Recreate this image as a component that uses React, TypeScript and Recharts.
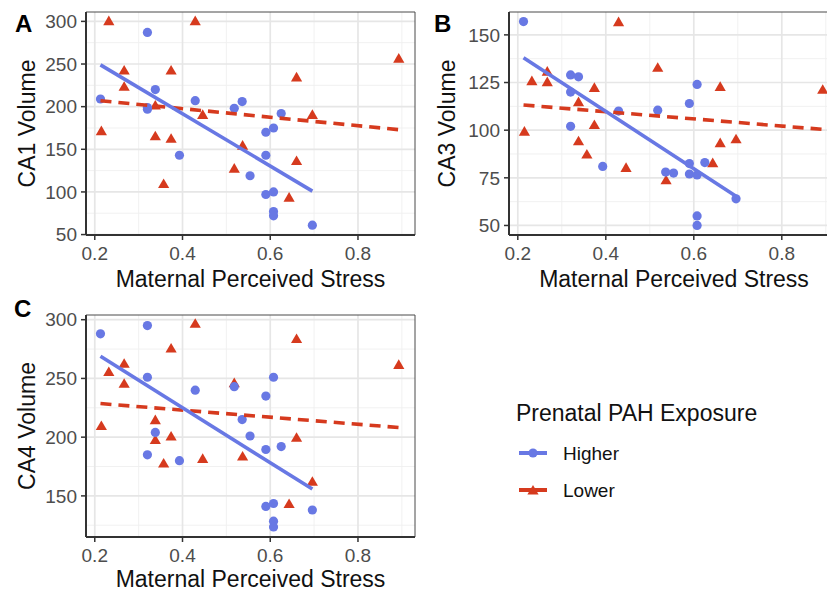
import React from 'react';
import {
  ScatterChart,
  Scatter,
  XAxis,
  YAxis,
  CartesianGrid,
  ReferenceArea,
} from 'recharts';

const BLUE = '#6878E4';
const RED = '#D63A1E';
const FONT = '"Liberation Sans", Arial, Helvetica, sans-serif';

// maternal perceived stress, per exposure group
const higherStress = [0.213, 0.32, 0.32, 0.32, 0.338, 0.393, 0.429, 0.518, 0.536, 0.554, 0.59, 0.59, 0.59, 0.6075, 0.6075, 0.6075, 0.6075, 0.625, 0.696];
const lowerStress = [0.215, 0.232, 0.267, 0.267, 0.338, 0.338, 0.357, 0.374, 0.374, 0.429, 0.446, 0.518, 0.537, 0.643, 0.66, 0.66, 0.696, 0.893];

// hippocampal subfield volumes
const ca1Higher = [209, 287, 197, 199, 220, 143, 207, 198, 206, 119, 170, 143, 97, 175, 100, 77, 72, 192, 61];
const ca1Lower = [172, 301, 243, 224, 202, 166, 110, 243, 163, 301, 191, 128, 155, 94, 235, 137, 191, 257];
const ca3Higher = [157, 129, 120, 102, 128, 81, 110, 110.5, 78, 77.5, 114, 82.5, 77, 124, 76.5, 55, 50, 83, 64];
const ca3Lower = [99.5, 126, 131, 125.5, 115, 94.5, 87.5, 122.5, 103, 157, 80.5, 133, 74, 83, 123, 93.5, 95.5, 121.5];
const ca4Higher = [288, 295, 251, 185, 204, 180, 240, 243, 215, 201, 235, 189.5, 141, 251, 143.5, 128.5, 123.5, 192, 138];
const ca4Lower = [210, 256, 263, 246, 215, 198, 178, 276, 201, 297, 182, 246.5, 184, 143.5, 284, 200, 162.5, 262];

// fitted line end points
const fitHigherX = [0.213, 0.696];
const fitLowerX = [0.213, 0.893];
const ca1FitHigher = [249, 101];
const ca1FitLower = [207, 173];
const ca3FitHigher = [138, 65.3];
const ca3FitLower = [113.2, 100.4];
const ca4FitHigher = [268.8, 155.8];
const ca4FitLower = [228.6, 208.2];

const xTicks = [0.2, 0.4, 0.6, 0.8];
const xMinor = [0.3, 0.5, 0.7, 0.9];
const xDomain = [0.18, 0.93];

const toPoints = (xs: number[], ys: number[]) => xs.map((x, i) => ({ x, y: ys[i] }));

const Dot = (props: any) => <circle cx={props.cx} cy={props.cy} r={4.6} fill={BLUE} />;

const Tri = (props: any) => {
  const { cx, cy } = props;
  return (
    <polygon
      points={`${cx},${cy - 5} ${cx + 5.6},${cy + 4.6} ${cx - 5.6},${cy + 4.6}`}
      fill={RED}
    />
  );
};

const NoShape = () => <g />;

interface PanelProps {
  left: number;
  top: number;
  width: number;
  height: number;
  marginTop: number;
  yWidth: number;
  xHeight: number;
  titleOffset: number;
  yDomain: number[];
  yTicks: number[];
  yMinor: number[];
  yLabel: string;
  higher: number[];
  lower: number[];
  fitHigher: number[];
  fitLower: number[];
}

// extra room under the x axis so the axis title is not clipped
const PAD = 10;

const Panel: React.FC<PanelProps> = (p) => (
  <div style={{ position: 'absolute', left: p.left, top: p.top }}>
    <ScatterChart
      width={p.width}
      height={p.height + PAD}
      margin={{ top: p.marginTop, right: 5, bottom: PAD, left: 0 }}
    >
      <CartesianGrid
        stroke="#EFEFEF"
        strokeWidth={0.9}
        horizontalValues={p.yMinor}
        verticalValues={xMinor}
      />
      <CartesianGrid
        stroke="#E6E6E6"
        strokeWidth={1.7}
        horizontalValues={p.yTicks}
        verticalValues={xTicks}
      />
      <ReferenceArea
        x1={xDomain[0]}
        x2={xDomain[1]}
        y1={p.yDomain[0]}
        y2={p.yDomain[1]}
        fill="none"
        stroke="#4a4a4a"
        strokeWidth={1}
        ifOverflow="visible"
      />
      <XAxis
        type="number"
        dataKey="x"
        domain={xDomain}
        ticks={xTicks}
        allowDataOverflow
        height={p.xHeight}
        tickFormatter={(v: number) => v.toFixed(1)}
        tick={{ fill: '#4d4d4d', fontSize: 19, fontFamily: FONT }}
        tickSize={5}
        tickMargin={7}
        tickLine={{ stroke: '#333', strokeWidth: 1.5 }}
        axisLine={{ stroke: '#333', strokeWidth: 2 }}
        label={{
          value: 'Maternal Perceived Stress',
          position: 'insideBottom',
          offset: p.titleOffset,
          fill: '#111',
          fontSize: 23,
          fontFamily: FONT,
        }}
      />
      <YAxis
        type="number"
        dataKey="y"
        domain={p.yDomain}
        ticks={p.yTicks}
        allowDataOverflow
        width={p.yWidth}
        tick={{ fill: '#4d4d4d', fontSize: 19, fontFamily: FONT }}
        tickSize={5}
        tickMargin={4}
        tickLine={{ stroke: '#333', strokeWidth: 1.5 }}
        axisLine={{ stroke: '#333', strokeWidth: 2 }}
        label={{
          value: p.yLabel,
          angle: -90,
          position: 'insideLeft',
          offset: 27,
          fill: '#111',
          fontSize: 23,
          fontFamily: FONT,
          style: { textAnchor: 'middle' },
        }}
      />
      <Scatter data={toPoints(lowerStress, p.lower)} shape={Tri} isAnimationActive={false} />
      <Scatter data={toPoints(higherStress, p.higher)} shape={Dot} isAnimationActive={false} />
      <Scatter
        data={toPoints(fitLowerX, p.fitLower)}
        shape={NoShape}
        line={{ stroke: RED, strokeWidth: 3.6, strokeDasharray: '11 7' }}
        isAnimationActive={false}
      />
      <Scatter
        data={toPoints(fitHigherX, p.fitHigher)}
        shape={NoShape}
        line={{ stroke: BLUE, strokeWidth: 3.6 }}
        isAnimationActive={false}
      />
    </ScatterChart>
  </div>
);

export default function App() {
  return (
    <div
      style={{
        position: 'relative',
        width: 827,
        height: 597,
        overflow: 'hidden',
        background: '#fff',
        fontFamily: FONT,
      }}
    >
      <style>{'body{margin:0}'}</style>
      <Panel
        left={0}
        top={0}
        width={420}
        height={290}
        marginTop={12}
        yWidth={86}
        xHeight={55}
        titleOffset={3}
        yDomain={[49.5, 311]}
        yTicks={[50, 100, 150, 200, 250, 300]}
        yMinor={[75, 125, 175, 225, 275]}
        yLabel="CA1 Volume"
        higher={ca1Higher}
        lower={ca1Lower}
        fitHigher={ca1FitHigher}
        fitLower={ca1FitLower}
      />
      <Panel
        left={420}
        top={0}
        width={424}
        height={290}
        marginTop={12}
        yWidth={89}
        xHeight={55}
        titleOffset={3}
        yDomain={[45, 162]}
        yTicks={[50, 75, 100, 125, 150]}
        yMinor={[62.5, 87.5, 112.5, 137.5]}
        yLabel="CA3 Volume"
        higher={ca3Higher}
        lower={ca3Lower}
        fitHigher={ca3FitHigher}
        fitLower={ca3FitLower}
      />
      <Panel
        left={0}
        top={290}
        width={420}
        height={302}
        marginTop={25}
        yWidth={86}
        xHeight={55}
        titleOffset={5}
        yDomain={[115, 304]}
        yTicks={[150, 200, 250, 300]}
        yMinor={[125, 175, 225, 275]}
        yLabel="CA4 Volume"
        higher={ca4Higher}
        lower={ca4Lower}
        fitHigher={ca4FitHigher}
        fitLower={ca4FitLower}
      />
      <svg
        width={827}
        height={597}
        style={{ position: 'absolute', left: 0, top: 0, pointerEvents: 'none' }}
      >
        <g fontFamily={FONT} fontWeight="bold" fontSize={24} fill="#000">
          <text x={15} y={32}>A</text>
          <text x={434} y={32}>B</text>
          <text x={14} y={317}>C</text>
        </g>
        <g fontFamily={FONT} fill="#111">
          <text x={516} y={421} fontSize={23}>Prenatal PAH Exposure</text>
          <line x1={519} x2={547} y1={453} y2={453} stroke={BLUE} strokeWidth={4} />
          <circle cx={533} cy={453} r={4.6} fill={BLUE} />
          <text x={563} y={460} fontSize={19}>Higher</text>
          <line x1={519} x2={547} y1={490} y2={490} stroke={RED} strokeWidth={4} />
          <polygon points="533,485 538.6,494.6 527.4,494.6" fill={RED} />
          <text x={563} y={497} fontSize={19}>Lower</text>
        </g>
      </svg>
    </div>
  );
}
